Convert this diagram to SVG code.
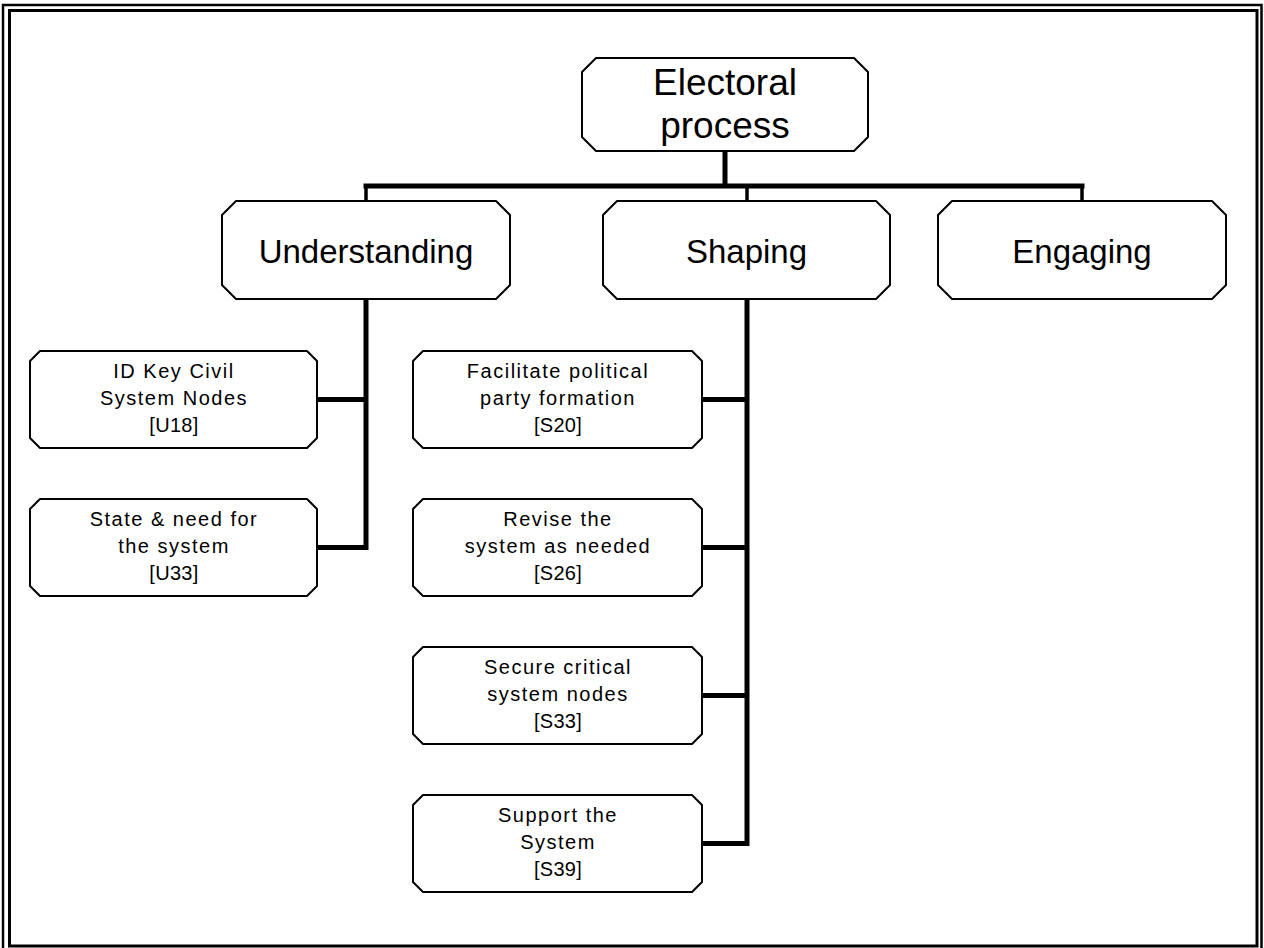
<svg xmlns="http://www.w3.org/2000/svg" width="1264" height="948" viewBox="0 0 1264 948">
<style>
.box{fill:#fff;stroke:#000;stroke-width:2;stroke-linejoin:round}
.t0{font-family:"Liberation Sans",Arial,sans-serif;font-size:37px;text-anchor:middle;fill:#000}
.t1{font-family:"Liberation Sans",Arial,sans-serif;font-size:33px;text-anchor:middle;fill:#000}
.t2{font-family:"Liberation Sans",Arial,sans-serif;font-size:20px;text-anchor:middle;fill:#000;letter-spacing:1.5px}
.t2b{font-family:"Liberation Sans",Arial,sans-serif;font-size:20px;text-anchor:middle;fill:#000;letter-spacing:0.3px}
.c{fill:none;stroke:#000;stroke-width:5;stroke-linecap:square}
.d{fill:none;stroke:#000;stroke-width:3.5}
</style>
<rect width="1264" height="948" fill="#fff"/>
<g id="frame" fill="none" stroke="#000">
<rect x="3" y="5" width="1258.5" height="952" stroke-width="2.5"/>
<rect x="9.5" y="10.5" width="1247.5" height="935.5" stroke-width="3"/>
</g>
<g id="connectors">
<path class="c" d="M725 151V186M366 186H1082"/>
<path class="d" d="M366 186V201M747 186V201M1082 186V201"/>
<path class="c" d="M366 299V547.5H317M366 399.5H317"/>
<path class="c" d="M747 299V843.5H702M747 399.5H702M747 547.5H702M747 695.5H702"/>
</g>
<g id="electoral">
<path class="box" d="M596 58H854L868 72V137L854 151H596L582 137V72Z"/>
<text class="t0" x="725" y="95">Electoral</text>
<text class="t0" x="725" y="138">process</text>
</g>
<g id="understanding">
<path class="box" d="M236 201H496L510 215V285L496 299H236L222 285V215Z"/>
<text class="t1" x="366" y="263">Understanding</text>
</g>
<g id="shaping">
<path class="box" d="M617 201H876L890 215V285L876 299H617L603 285V215Z"/>
<text class="t1" x="746.5" y="263">Shaping</text>
</g>
<g id="engaging">
<path class="box" d="M952 201H1212L1226 215V285L1212 299H952L938 285V215Z"/>
<text class="t1" x="1082" y="263">Engaging</text>
</g>
<g id="u18">
<path class="box" d="M40 351H307L317 361V438L307 448H40L30 438V361Z"/>
<text class="t2" x="174" y="378">ID Key Civil</text>
<text class="t2" x="174" y="405">System Nodes</text>
<text class="t2b" x="174" y="432">[U18]</text>
</g>
<g id="u33">
<path class="box" d="M40 499H307L317 509V586L307 596H40L30 586V509Z"/>
<text class="t2" x="174" y="526">State &amp; need for</text>
<text class="t2" x="174" y="553">the system</text>
<text class="t2b" x="174" y="580">[U33]</text>
</g>
<g id="s20">
<path class="box" d="M423 351H692L702 361V438L692 448H423L413 438V361Z"/>
<text class="t2" x="558" y="378">Facilitate political</text>
<text class="t2" x="558" y="405">party formation</text>
<text class="t2b" x="558" y="432">[S20]</text>
</g>
<g id="s26">
<path class="box" d="M423 499H692L702 509V586L692 596H423L413 586V509Z"/>
<text class="t2" x="558" y="526">Revise the</text>
<text class="t2" x="558" y="553">system as needed</text>
<text class="t2b" x="558" y="580">[S26]</text>
</g>
<g id="s33">
<path class="box" d="M423 647H692L702 657V734L692 744H423L413 734V657Z"/>
<text class="t2" x="558" y="674">Secure critical</text>
<text class="t2" x="558" y="701">system nodes</text>
<text class="t2b" x="558" y="728">[S33]</text>
</g>
<g id="s39">
<path class="box" d="M423 795H692L702 805V882L692 892H423L413 882V805Z"/>
<text class="t2" x="558" y="822">Support the</text>
<text class="t2" x="558" y="849">System</text>
<text class="t2b" x="558" y="876">[S39]</text>
</g>
</svg>
